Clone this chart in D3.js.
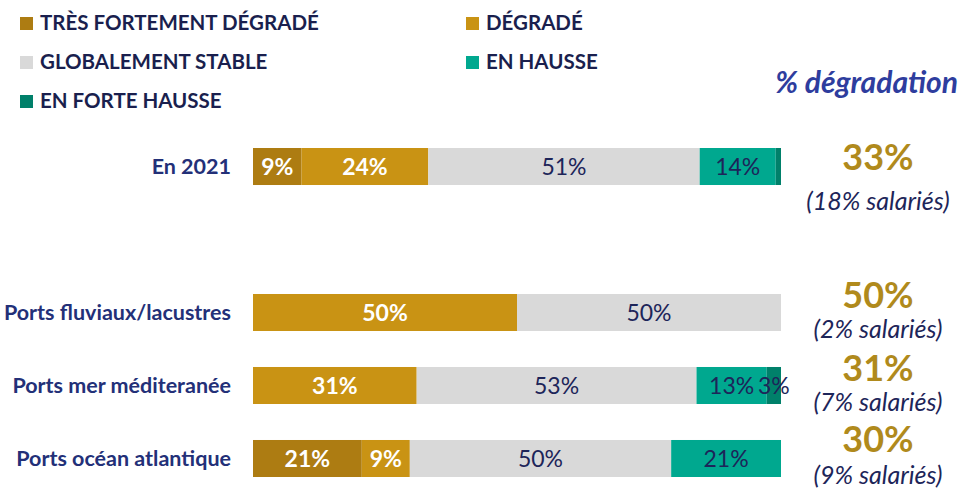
<!DOCTYPE html>
<html>
<head>
<meta charset="utf-8">
<script src="https://cdn.jsdelivr.net/npm/d3@7"></script>
<style>
  body { margin: 0; background: #fff; }
  svg { font-family: Lato, "Open Sans", sans-serif; }
</style>
</head>
<body>
<div id="chart"></div>
<script>
const svgWidth = 962;
const svgHeight = 491;

// categories (empty slot = gap between 2021 and ports)
const categories = ['En 2021', '', 'Ports fluviaux/lacustres', 'Ports mer méditeranée', 'Ports océan atlantique'];
const series = ['TRÈS FORTEMENT DÉGRADÉ', 'DÉGRADÉ', 'GLOBALEMENT STABLE', 'EN HAUSSE', 'EN FORTE HAUSSE'];
const colors = ['#ad7c12', '#c99314', '#d9d9d9', '#00a88f', '#00806a'];
const labelColors = ['#fff', '#fff', '#1d2559', '#1d2559', '#1d2559'];

const tresDegrade = [9.2, null, 0, 0, 20.6];
const degrade = [24.0, null, 50, 31, 9.1];
const stable = [51.4, null, 50, 53, 49.5];
const hausse = [14.4, null, 0, 13.3, 20.8];
const forteHausse = [1.0, null, 0, 2.7, 0];
const showLabel = [[1, 1, 1, 1, 0], null, [0, 1, 1, 0, 0], [0, 1, 1, 1, 1], [1, 1, 1, 1, 0]];

const degradation = ['33%', null, '50%', '31%', '30%'];
const salaries = ['(18% salariés)', null, '(2% salariés)', '(7% salariés)', '(9% salariés)'];

const svg = d3.select('#chart').append('svg')
  .attr('width', svgWidth)
  .attr('height', svgHeight);

const xScale = d3.scaleLinear().domain([0, 100]).range([253, 781]);
const yScale = d3.scaleBand().domain(categories).range([148, 477]).paddingInner(0.493).paddingOuter(0);

const rows = categories.map((c, i) => ({
  cat: c, i,
  vals: [tresDegrade[i], degrade[i], stable[i], hausse[i], forteHausse[i]]
})).filter(d => d.cat !== '');

rows.forEach(row => {
  let acc = 0;
  const segs = row.vals.map((v, k) => {
    const s = { k, x0: acc, x1: acc + v, v };
    acc += v;
    return s;
  });
  const g = svg.append('g');
  g.selectAll('rect').data(segs.filter(s => s.v > 0))
    .enter().append('rect')
      .attr('x', s => xScale(s.x0))
      .attr('y', yScale(row.cat))
      .attr('width', s => xScale(s.x1) - xScale(s.x0))
      .attr('height', yScale.bandwidth())
      .attr('fill', s => colors[s.k]);
  g.selectAll('text').data(segs.filter(s => s.v > 0 && showLabel[row.i][s.k]))
    .enter().append('text')
      .attr('x', s => (xScale(s.x0) + xScale(s.x1)) / 2)
      .attr('y', yScale(row.cat) + yScale.bandwidth() / 2)
      .attr('dy', '0.36em')
      .attr('text-anchor', 'middle')
      .attr('font-size', 23)
      .attr('font-weight', s => s.k < 2 ? 700 : 400)
      .attr('fill', s => labelColors[s.k])
      .text(s => Math.round(s.v) + '%');

  // category label
  svg.append('text')
    .attr('x', 231)
    .attr('y', yScale(row.cat) + yScale.bandwidth() / 2)
    .attr('dy', '0.36em')
    .attr('text-anchor', 'end')
    .attr('font-size', 21.5)
    .attr('font-weight', 700)
    .attr('fill', '#233078')
    .text(row.cat);
});

// right-hand totals
const totalY = [157, null, 295, 368, 439];
const salY = [201, null, 329, 402, 475];
rows.forEach(row => {
  svg.append('text')
    .attr('x', 878).attr('y', totalY[row.i])
    .attr('dy', '0.36em')
    .attr('text-anchor', 'middle')
    .attr('font-size', 36)
    .attr('font-weight', 700)
    .attr('fill', '#b08a1c')
    .text(degradation[row.i]);
  svg.append('text')
    .attr('x', 878).attr('y', salY[row.i])
    .attr('dy', '0.36em')
    .attr('text-anchor', 'middle')
    .attr('font-size', 25)
    .attr('font-style', 'italic')
    .attr('fill', '#1d2559')
    .text(salaries[row.i]);
});

svg.append('text')
  .attr('x', 958).attr('y', 82)
  .attr('dy', '0.36em')
  .attr('text-anchor', 'end')
  .attr('font-size', 30)
  .attr('font-weight', 700)
  .attr('font-style', 'italic')
  .attr('fill', '#2e3d9e')
  .text('% dégradation');

// legend
const legendPos = [[20, 23], [466, 23], [20, 62], [466, 62], [20, 101]];
const legend = svg.selectAll('.legend').data(series)
  .enter().append('g')
    .attr('class', 'legend')
    .attr('transform', (d, i) => `translate(${legendPos[i][0]},${legendPos[i][1]})`);
legend.append('rect')
  .attr('x', 0).attr('y', -6)
  .attr('width', 13).attr('height', 13)
  .attr('fill', (d, i) => colors[i]);
legend.append('text')
  .attr('x', 20).attr('dy', '0.36em')
  .attr('font-size', 20.5)
  .attr('font-weight', 700)
  .attr('fill', '#1a1f4e')
  .text(d => d);
</script>
</body>
</html>
